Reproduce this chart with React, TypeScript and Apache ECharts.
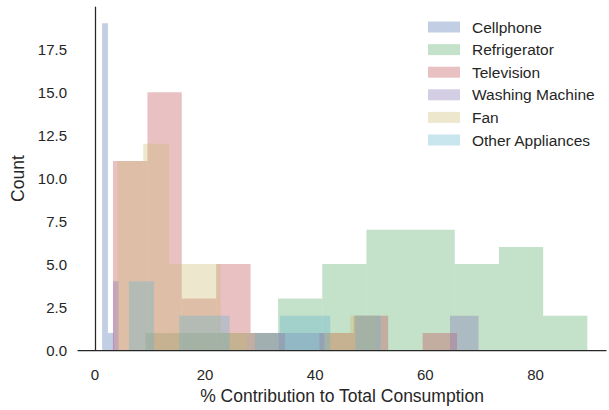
import React, { useEffect, useRef } from "react";
import * as echarts from "echarts";

// Histogram bins: edges (x values, %) and counts per bin
const seriesNames = ["Cellphone", "Refrigerator", "Television", "Washing Machine", "Fan", "Other Appliances"];

const cellphoneEdges = [1.33, 2.38, 3.42];
const cellphoneCounts = [19, 1];

const refrigeratorEdges = [9.21, 17.23, 25.25, 33.27, 41.29, 49.31, 57.33, 65.35, 73.37, 81.39, 89.41];
const refrigeratorCounts = [1, 1, 1, 3, 5, 7, 7, 5, 6, 2];

const televisionEdges = [3.3, 9.55, 15.79, 22.04, 28.28, 34.53, 40.77, 47.02, 53.26, 59.51, 65.75];
const televisionCounts = [11, 15, 3, 5, 1, 0, 1, 2, 0, 1];

const washingEdges = [3.3, 4.34, 33.37, 41.67, 64.48, 69.67];
const washingCounts = [4, 0, 1, 0, 2];

const fanEdges = [4.1, 8.8, 13.49, 18.19, 22.88, 27.58, 32.27, 36.97, 41.66, 46.36, 51.05];
const fanCounts = [11, 12, 5, 5, 1, 0, 0, 0, 1, 2];

const otherEdges = [6.19, 10.76, 15.33, 19.9, 24.47, 29.04, 33.61, 38.17, 42.74, 47.31, 51.88];
const otherCounts = [4, 0, 2, 2, 0, 1, 2, 2, 0, 2];

const xTicks = [0, 20, 40, 60, 80];

const colors = [
  "rgba(76,114,176,0.35)",
  "rgba(85,168,104,0.35)",
  "rgba(196,78,82,0.35)",
  "rgba(129,114,178,0.35)",
  "rgba(204,185,116,0.35)",
  "rgba(100,181,205,0.35)",
];

const allEdges = [cellphoneEdges, refrigeratorEdges, televisionEdges, washingEdges, fanEdges, otherEdges];
const allCounts = [cellphoneCounts, refrigeratorCounts, televisionCounts, washingCounts, fanCounts, otherCounts];

const FONT = "'Liberation Sans', Arial, sans-serif";
const INK = "#262626";

function toBins(edges: number[], counts: number[]) {
  const out: number[][] = [];
  counts.forEach((c, i) => {
    if (c > 0) out.push([edges[i], edges[i + 1], c]);
  });
  return out;
}

export default function App() {
  const ref = useRef<HTMLDivElement>(null);
  useEffect(() => {
    if (!ref.current) return;
    const chart = echarts.init(ref.current, null, { renderer: "svg" });
    const series = seriesNames.map((name, si) => ({
      type: "custom",
      name,
      data: toBins(allEdges[si], allCounts[si]),
      encode: { x: [0, 1], y: 2 },
      itemStyle: { color: colors[si] },
      clip: true,
      renderItem: (params: any, api: any) => {
        const p0 = api.coord([api.value(0), api.value(2)]);
        const p1 = api.coord([api.value(1), 0]);
        return {
          type: "rect",
          shape: { x: p0[0], y: p0[1], width: p1[0] - p0[0], height: p1[1] - p0[1] },
          style: { fill: colors[si] },
        };
      },
    }));
    chart.setOption({
      animation: false,
      backgroundColor: "#ffffff",
      grid: { left: 78, right: 0, top: 7, bottom: 54 },
      legend: {
        orient: "vertical",
        left: 428,
        top: 19,
        padding: 0,
        itemWidth: 32,
        itemHeight: 11,
        itemGap: 6.6,
        icon: "rect",
        data: seriesNames.map((n, i) => ({ name: n, itemStyle: { color: colors[i] } })),
        textStyle: { fontFamily: FONT, fontSize: 15.5, color: INK, lineHeight: 16, padding: [0, 0, 0, 7] },
      },
      xAxis: {
        type: "value",
        min: -3.05,
        max: 92.8,
        splitLine: { show: false },
        axisTick: { show: false },
        axisLine: { show: true, lineStyle: { color: INK, width: 1.25 } },
        axisLabel: {
          margin: 17,
          fontFamily: FONT,
          fontSize: 15,
          color: INK,
          formatter: (v: number) => (xTicks.includes(v) ? String(v) : ""),
        },
        name: "% Contribution to Total Consumption",
        nameLocation: "middle",
        nameGap: 35,
        nameTextStyle: { fontFamily: FONT, fontSize: 17.5, color: INK },
      },
      yAxis: {
        type: "value",
        min: 0,
        max: 19.95,
        interval: 2.5,
        splitLine: { show: false },
        axisTick: { show: false },
        axisLine: { show: true, lineStyle: { color: INK, width: 1.25 } },
        axisLabel: {
          margin: 11,
          fontFamily: FONT,
          fontSize: 15,
          color: INK,
          formatter: (v: number) => (v > 18 ? "" : v.toFixed(1)),
        },
        name: "Count",
        nameLocation: "middle",
        nameGap: 51,
        nameTextStyle: { fontFamily: FONT, fontSize: 17.5, color: INK },
      },
      series,
    });
    return () => chart.dispose();
  }, []);
  return (
    <div
      ref={ref}
      style={{ position: "fixed", left: 0, top: 0, width: 609, height: 410, background: "#fff" }}
    />
  );
}
